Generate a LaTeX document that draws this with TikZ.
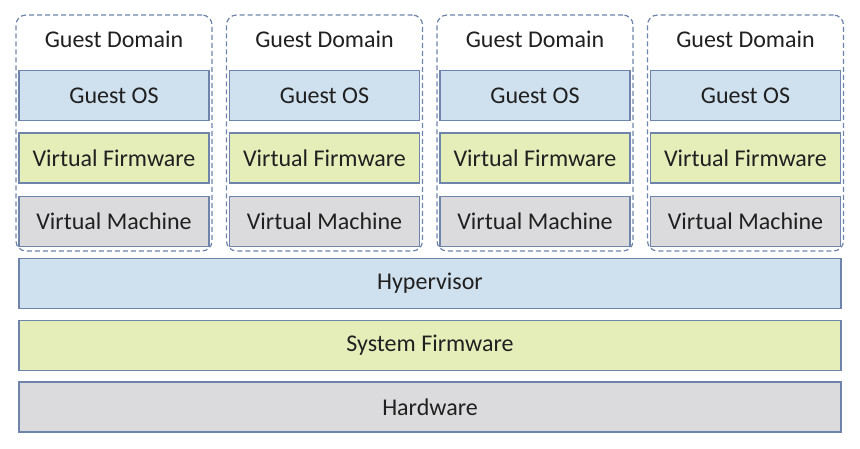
\documentclass[tikz,border=0pt]{standalone}
\usepackage{fontspec}
\setmainfont{Carlito}

\definecolor{edgeblue}{HTML}{6F84AA}
\definecolor{osblue}{HTML}{CFE0EE}
\definecolor{fwgreen}{HTML}{E5EDB9}
\definecolor{hwgray}{HTML}{DBDBDD}
\definecolor{txtgray}{HTML}{202020}

\begin{document}
\begin{tikzpicture}[x=1pt, y=-1pt,
    layer/.style={draw=edgeblue, line width=1.2pt, inner sep=0pt,
      minimum height=50pt, text=txtgray, font=\fontsize{24}{28}\selectfont},
    guestbox/.style={draw=edgeblue, dash pattern=on 5pt off 3pt, line width=1.2pt,
      rounded corners=10pt, minimum width=196pt, minimum height=236pt, inner sep=0pt},
    domtitle/.style={text=txtgray, font=\fontsize{24}{28}\selectfont}]
  \useasboundingbox (0,0) rectangle (860,448);
  % one guest domain per column
  \foreach \i in {0,1,2,3} {
    \pgfmathsetmacro{\cx}{114+210.5*\i}
    \node[guestbox] (dom\i) at (\cx, 133) {};
    \node[domtitle] (name\i) at (\cx, 39) {Guest Domain};
    \node[layer, fill=osblue, minimum width=190pt] (os\i) at (\cx, 95.5) {Guest OS};
    \node[layer, fill=fwgreen, minimum width=190pt] (vfw\i) at (\cx, 158) {Virtual Firmware};
    \node[layer, fill=hwgray, minimum width=190pt] (vm\i) at (\cx, 221.5) {Virtual Machine};
  }
  % shared layers
  \node[layer, fill=osblue, minimum width=822pt] (hyp) at (430, 283.5) {Hypervisor};
  \node[layer, fill=fwgreen, minimum width=822pt] (sfw) at (430, 345.5) {System Firmware};
  \node[layer, fill=hwgray, minimum width=822pt] (hw) at (430, 407) {Hardware};
\end{tikzpicture}
\end{document}
